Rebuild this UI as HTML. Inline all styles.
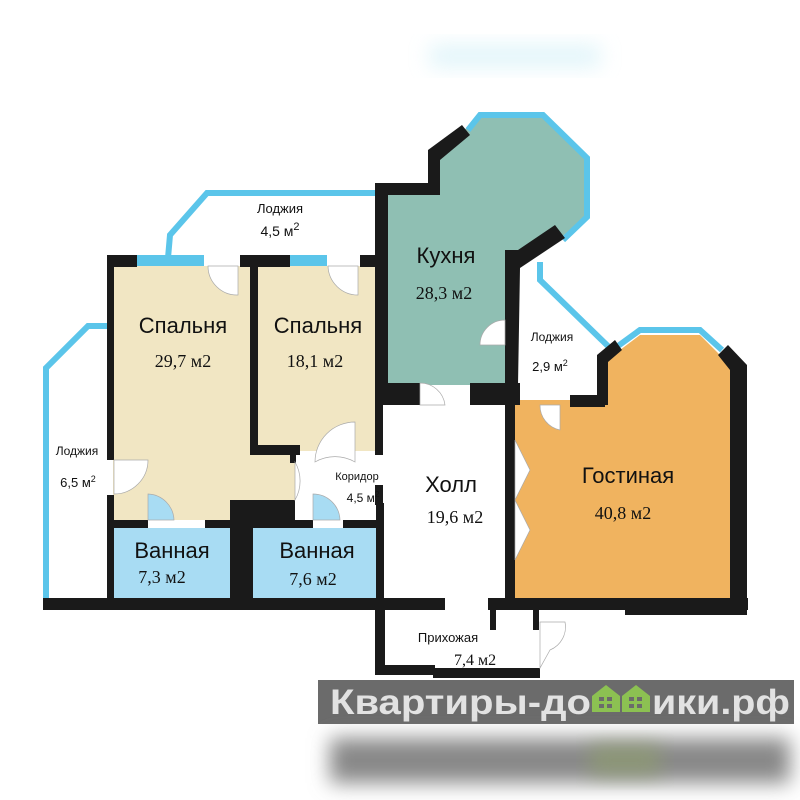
<!DOCTYPE html>
<html><head><meta charset="utf-8"><style>
body{margin:0;background:#fff;width:800px;height:800px;overflow:hidden}
svg{display:block}
.s{font-family:"Liberation Sans","DejaVu Sans",sans-serif;fill:#111}
.r{font-family:"Liberation Serif",serif;fill:#111}
</style></head><body>
<svg width="800" height="800" viewBox="0 0 800 800" xmlns="http://www.w3.org/2000/svg">
<defs>
<filter id="b" x="-20%" y="-50%" width="140%" height="200%"><feGaussianBlur stdDeviation="10"/></filter>
</defs>
<rect width="800" height="800" fill="#fff"/>
<!-- top faint blur -->
<rect x="430" y="45" width="170" height="22" fill="#cdeef6" filter="url(#b)" opacity="0.6"/>

<!-- fills -->
<polygon points="113,266 253,266 253,455 295,455 295,520 113,520" fill="#f1e6c3"/>
<rect x="258" y="266" width="118" height="185" fill="#f1e6c3"/>
<polygon points="388,195 440,195 440,150 470,125 480,114 543,114 588,158 588,217 560,238 518,262 505,262 505,385 388,385" fill="#8fbfb3"/>
<polygon points="515,400 600,400 600,365 640,335 700,335 730,365 730,600 515,600" fill="#f0b35f"/>
<rect x="113" y="528" width="117" height="70" fill="#a8dcf3"/>
<rect x="253" y="528" width="125" height="70" fill="#a8dcf3"/>

<!-- blue loggia outlines -->
<g fill="none" stroke="#5bc5ea" stroke-width="6">
<polyline points="168,258 170,235 207,193 375,193"/>
<polyline points="46,598 46,368 88,326 107,326"/>
<polyline points="540,262 540,280 612,350"/>
<polyline points="468,130 480,115 543,115 587,158 587,217 563,240"/>
<polyline points="618,346 640,330 700,330 722,350"/>
</g>
<g fill="#5bc5ea">
<rect x="137" y="255" width="67" height="11"/>
<rect x="290" y="255" width="37" height="11"/>
</g>

<!-- walls -->
<g fill="#1a1a1a">
<rect x="107" y="255" width="30" height="12"/>
<rect x="107" y="255" width="7" height="205"/>
<rect x="107" y="495" width="7" height="110"/>
<rect x="240" y="255" width="50" height="12"/>
<rect x="250" y="255" width="8" height="200"/>
<rect x="250" y="445" width="50" height="10"/>
<rect x="290" y="455" width="6" height="8"/>
<rect x="360" y="255" width="20" height="12"/>
<rect x="375" y="183" width="13" height="222"/>
<rect x="375" y="183" width="65" height="12"/>
<polygon points="428,150 462,125 470,135 440,160 440,195 428,195"/>
<polygon points="505,250 518,250 555,225 565,238 520,268 518,385 505,385"/>
<rect x="375" y="383" width="45" height="22"/>
<rect x="470" y="383" width="50" height="22"/>
<rect x="505" y="395" width="10" height="210"/>
<rect x="375" y="405" width="8" height="50"/>
<rect x="375" y="485" width="8" height="20"/>
<rect x="570" y="395" width="35" height="12"/>
<polygon points="597,405 597,355 615,340 622,350 608,362 608,405"/>
<polygon points="718,355 728,345 747,365 747,612 730,612 730,370"/>
<rect x="113" y="520" width="35" height="8"/>
<rect x="205" y="520" width="25" height="8"/>
<rect x="230" y="500" width="23" height="105"/>
<rect x="253" y="500" width="42" height="28"/>
<rect x="253" y="520" width="60" height="8"/>
<rect x="343" y="520" width="35" height="8"/>
<rect x="376" y="503" width="8" height="100"/>
<rect x="43" y="598" width="402" height="12"/>
<rect x="488" y="598" width="260" height="12"/>
<rect x="625" y="605" width="122" height="10"/>
<rect x="375" y="600" width="10" height="75"/>
<rect x="375" y="665" width="60" height="10"/>
<rect x="433" y="668" width="107" height="10"/>
<rect x="490" y="605" width="6" height="25"/>
<rect x="533" y="605" width="6" height="25"/>
</g>

<!-- doors -->
<g fill="#fff" stroke="#aaa" stroke-width="0.7">
<path d="M208,266 L238,266 L238,295 A29,29 0 0 1 208,266 Z"/>
<path d="M328,266 L358,266 L358,295 A30,30 0 0 1 328,266 Z"/>
<path d="M114,460 L148,460 A34,34 0 0 1 114,494 Z"/>
<path d="M148,520 L148,494 A27,27 0 0 1 174,520 Z" fill="#a8dcf3"/>
<path d="M313,520 L313,494 A27,27 0 0 1 340,520 Z" fill="#a8dcf3"/>
<path d="M295,462 L295,500 A38,38 0 0 0 295,462 Z"/>
<path d="M355,422 L355,462 A40,40 0 0 0 315,462 A40,40 0 0 1 355,422 Z"/>
<path d="M505,330 L505,345 L480,345 A25,25 0 0 1 505,320 Z"/>
<path d="M420,385 L420,405 L445,405 A25,25 0 0 0 420,383 Z"/>
<path d="M540,405 L560,405 L560,430 A25,25 0 0 1 540,405 Z"/>
<path d="M515,440 L530,470 L515,500 Z"/>
<path d="M515,500 L530,530 L515,560 Z"/>
<path d="M540,622 L565,622 A25,25 0 0 1 550,650 L540,668 Z"/>
</g>

<!-- labels -->
<text class="s" x="280" y="213" font-size="13" text-anchor="middle">Лоджия</text>
<text class="s" x="280" y="236" font-size="14" text-anchor="middle">4,5 м<tspan dy="-6" font-size="11">2</tspan></text>
<text class="s" x="183" y="333" font-size="22" text-anchor="middle">Спальня</text>
<text class="r" x="183" y="367" font-size="18" text-anchor="middle">29,7 м2</text>
<text class="s" x="318" y="333" font-size="22" text-anchor="middle">Спальня</text>
<text class="r" x="315" y="367" font-size="18" text-anchor="middle">18,1 м2</text>
<text class="s" x="446" y="263" font-size="22" text-anchor="middle">Кухня</text>
<text class="r" x="444" y="299" font-size="18" text-anchor="middle">28,3 м2</text>
<text class="s" x="552" y="341" font-size="12" text-anchor="middle">Лоджия</text>
<text class="s" x="550" y="371" font-size="13" text-anchor="middle">2,9 м<tspan dy="-5" font-size="9">2</tspan></text>
<text class="s" x="77" y="455" font-size="12" text-anchor="middle">Лоджия</text>
<text class="s" x="78" y="487" font-size="13" text-anchor="middle">6,5 м<tspan dy="-5" font-size="9">2</tspan></text>
<text class="s" x="357" y="480" font-size="11" text-anchor="middle">Коридор</text>
<text class="s" x="363" y="502" font-size="12" text-anchor="middle">4,5 м<tspan dy="-5" font-size="8">2</tspan></text>
<text class="s" x="451" y="492" font-size="22" text-anchor="middle">Холл</text>
<text class="r" x="455" y="523" font-size="18" text-anchor="middle">19,6 м2</text>
<text class="s" x="628" y="483" font-size="22" text-anchor="middle">Гостиная</text>
<text class="r" x="623" y="519" font-size="18" text-anchor="middle">40,8 м2</text>
<text class="s" x="172" y="558" font-size="22" text-anchor="middle">Ванная</text>
<text class="r" x="162" y="583" font-size="18" text-anchor="middle">7,3 м2</text>
<text class="s" x="317" y="558" font-size="22" text-anchor="middle">Ванная</text>
<text class="r" x="313" y="585" font-size="18" text-anchor="middle">7,6 м2</text>
<text class="s" x="448" y="642" font-size="13" text-anchor="middle">Прихожая</text>
<text class="r" x="475" y="665" font-size="16" text-anchor="middle">7,4 м2</text>

<!-- watermark -->
<rect x="318" y="680" width="476" height="44" fill="#6b6b6b"/>
<text x="330" y="714" font-family="Liberation Sans, DejaVu Sans, sans-serif" font-weight="bold" font-size="35" fill="#e2e2e2" textLength="261" lengthAdjust="spacingAndGlyphs">Квартиры-до</text>
<g fill="#8cc152">
<polygon points="592,712 592,696 606,685 620,696 620,712"/>
<polygon points="622,712 622,696 636,685 650,696 650,712"/>
</g>
<g fill="#6b6b6b">
<rect x="599" y="697" width="13" height="11"/><rect x="629" y="697" width="13" height="11"/>
</g>
<g fill="#8cc152"><rect x="604" y="697" width="3" height="11"/><rect x="599" y="701" width="13" height="3"/><rect x="634" y="697" width="3" height="11"/><rect x="629" y="701" width="13" height="3"/></g>
<text x="652" y="714" font-family="Liberation Sans, DejaVu Sans, sans-serif" font-weight="bold" font-size="35" fill="#e2e2e2" textLength="138" lengthAdjust="spacingAndGlyphs">ики.рф</text>

<!-- blurred reflection -->
<rect x="330" y="738" width="460" height="45" fill="#888" filter="url(#b)"/>
<rect x="590" y="745" width="70" height="30" fill="#8fa06a" filter="url(#b)" opacity="0.6"/>
</svg>
</body></html>
